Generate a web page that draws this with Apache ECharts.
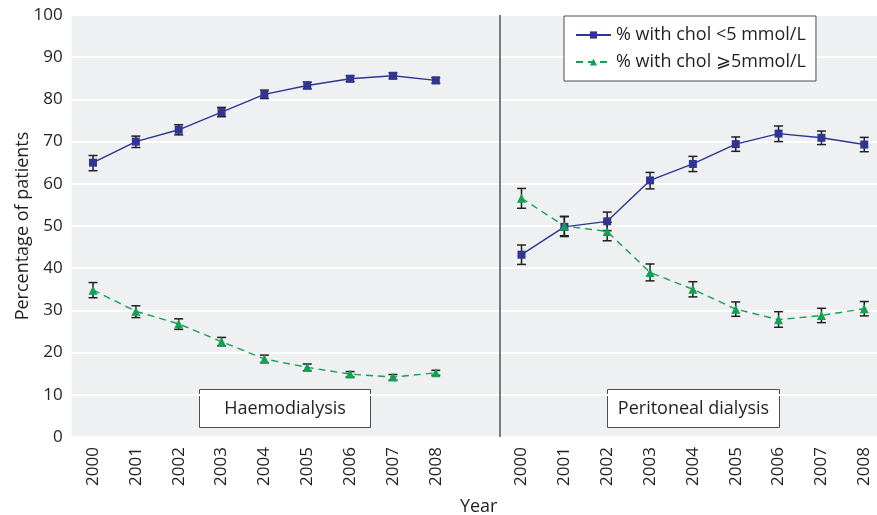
<!DOCTYPE html>
<html>
<head>
<meta charset="utf-8">
<script src="https://cdn.jsdelivr.net/npm/echarts@6/dist/echarts.min.js"></script>
<style>
  html, body { margin: 0; padding: 0; background: #ffffff; }
  #chart { width: 877px; height: 515px; }
</style>
</head>
<body>
<div id="chart"></div>
<script>
// Survey years, shown once for each dialysis modality
const years = ['2000', '2001', '2002', '2003', '2004', '2005', '2006', '2007', '2008'];

// Haemodialysis: % of patients with cholesterol < 5 mmol/L (with 95% CI)
const hdBelow     = [65.0, 70.0, 72.8, 77.0, 81.2, 83.3, 84.9, 85.6, 84.5];
const hdBelowLow  = [63.1, 68.6, 71.6, 75.9, 80.2, 82.5, 84.2, 84.9, 83.8];
const hdBelowHigh = [66.7, 71.3, 74.0, 78.1, 82.2, 84.1, 85.6, 86.3, 85.2];

// Haemodialysis: % of patients with cholesterol >= 5 mmol/L
const hdAbove     = [34.8, 29.8, 26.8, 22.6, 18.5, 16.5, 14.9, 14.2, 15.2];
const hdAboveLow  = [33.0, 28.3, 25.5, 21.6, 17.6, 15.7, 14.2, 13.5, 14.6];
const hdAboveHigh = [36.6, 31.1, 28.0, 23.6, 19.4, 17.3, 15.5, 14.8, 15.8];

// Peritoneal dialysis: % of patients with cholesterol < 5 mmol/L
const pdBelow     = [43.2, 49.8, 51.1, 60.8, 64.7, 69.4, 71.9, 70.9, 69.3];
const pdBelowLow  = [40.9, 47.5, 48.9, 58.8, 62.9, 67.7, 70.0, 69.3, 67.6];
const pdBelowHigh = [45.5, 52.2, 53.3, 62.7, 66.5, 71.1, 73.7, 72.5, 71.0];

// Peritoneal dialysis: % of patients with cholesterol >= 5 mmol/L
const pdAbove     = [56.6, 50.0, 48.7, 39.0, 35.0, 30.3, 27.8, 28.8, 30.4];
const pdAboveLow  = [54.2, 47.7, 46.5, 37.0, 33.2, 28.6, 26.0, 27.1, 28.7];
const pdAboveHigh = [58.9, 52.3, 50.9, 41.0, 36.8, 32.0, 29.7, 30.5, 32.1];

// Y axis ticks
const yMin = 0, yMax = 100, yStep = 10;

const seriesNames = ['% with chol <5 mmol/L', '% with chol \u2A7E5mmol/L'];
const panelNames = ['Haemodialysis', 'Peritoneal dialysis'];

const FONT = '"Open Sans", "DejaVu Sans", sans-serif';
const TEXT = '#231f20';
const BLUE = '#2e3592';
const GREEN = '#12a150';

// One category axis: HD years, an empty spacer slot, then PD years
const categories = years.concat([''], years);
const pdOffset = years.length + 1;

function joinPanels(hd, pd) {
  return hd.concat([null], pd);
}

function errorData(hdLow, hdHigh, pdLow, pdHigh) {
  const out = [];
  hdLow.forEach((lo, i) => out.push([i, lo, hdHigh[i]]));
  pdLow.forEach((lo, i) => out.push([i + pdOffset, lo, pdHigh[i]]));
  return out;
}

function renderErrorBar(params, api) {
  const x = api.value(0);
  const lo = api.coord([x, api.value(1)]);
  const hi = api.coord([x, api.value(2)]);
  const half = 4.5;
  const style = { stroke: '#231f20', lineWidth: 1.5, fill: null };
  return {
    type: 'group',
    children: [
      { type: 'line', shape: { x1: lo[0], y1: lo[1], x2: hi[0], y2: hi[1] }, style: style },
      { type: 'line', shape: { x1: lo[0] - half, y1: lo[1], x2: lo[0] + half, y2: lo[1] }, style: style },
      { type: 'line', shape: { x1: hi[0] - half, y1: hi[1], x2: hi[0] + half, y2: hi[1] }, style: style }
    ]
  };
}

function errorSeries(data) {
  return {
    type: 'custom',
    renderItem: renderErrorBar,
    data: data,
    encode: { x: 0, y: [1, 2] },
    z: 1,
    silent: true,
    legendHoverLink: false
  };
}

function panelLabel(text, left, width) {
  return {
    type: 'group',
    left: left,
    top: 389,
    children: [
      { type: 'rect', shape: { x: 0, y: 0, width: width, height: 38 },
        style: { fill: '#ffffff', stroke: '#4d4d4f', lineWidth: 1 } },
      { type: 'text', x: width / 2, y: 19,
        style: { text: text, align: 'center', verticalAlign: 'middle',
                 font: '18px ' + FONT, fill: TEXT } }
    ]
  };
}

const chart = echarts.init(document.getElementById('chart'), null, { renderer: 'canvas' });

chart.setOption({
  animation: false,
  backgroundColor: '#ffffff',
  textStyle: { fontFamily: FONT },
  grid: {
    left: 71.6, width: 814.1, top: 15, height: 422,
    show: true, backgroundColor: '#eff0f2', borderWidth: 0,
    containLabel: false,
    outerBoundsMode: 'none'
  },
  legend: {
    orient: 'vertical',
    left: 564, top: 16,
    padding: [10, 10, 10, 11],
    itemGap: 9,
    itemWidth: 35, itemHeight: 9,
    backgroundColor: '#ffffff',
    borderColor: '#4d4d4f', borderWidth: 1,
    textStyle: { fontSize: 18, color: TEXT, fontFamily: FONT },
    data: seriesNames
  },
  xAxis: [
    {
      type: 'category',
      data: categories,
      boundaryGap: true,
      name: 'Year',
      nameLocation: 'middle',
      nameGap: 61,
      nameMoveOverlap: false,
      nameTextStyle: { fontSize: 18, color: TEXT, fontFamily: FONT },
      axisLine: { show: false },
      axisTick: { show: false },
      axisLabel: {
        rotate: 90, interval: 0, margin: 10,
        fontSize: 17, color: TEXT, fontFamily: FONT
      },
      splitLine: { show: false }
    },
    {
      // Slot-count axis used to place the divider between the two panels
      type: 'value',
      min: 0, max: categories.length,
      show: false
    }
  ],
  yAxis: {
    type: 'value',
    min: yMin, max: yMax, interval: yStep,
    name: 'Percentage of patients',
    nameLocation: 'middle',
    nameGap: 40,
    nameMoveOverlap: false,
    nameTextStyle: { fontSize: 18, color: TEXT, fontFamily: FONT },
    axisLine: { show: false },
    axisTick: { show: false },
    axisLabel: { margin: 9, fontSize: 17, color: TEXT, fontFamily: FONT },
    splitLine: { show: true, lineStyle: { color: '#ffffff', width: 2 } }
  },
  series: [
    errorSeries(errorData(hdBelowLow, hdBelowHigh, pdBelowLow, pdBelowHigh)),
    errorSeries(errorData(hdAboveLow, hdAboveHigh, pdAboveLow, pdAboveHigh)),
    {
      name: seriesNames[0],
      type: 'line',
      data: joinPanels(hdBelow, pdBelow),
      connectNulls: false,
      symbol: 'rect',
      symbolSize: 8,
      showAllSymbol: true,
      z: 3,
      lineStyle: { color: BLUE, width: 1.4 },
      itemStyle: { color: BLUE }
    },
    {
      name: seriesNames[1],
      type: 'line',
      data: joinPanels(hdAbove, pdAbove),
      connectNulls: false,
      symbol: 'triangle',
      symbolSize: 9,
      showAllSymbol: true,
      z: 3,
      lineStyle: { color: GREEN, width: 1.4, type: [7, 5] },
      itemStyle: { color: GREEN }
    },
    {
      // Divider between the haemodialysis and peritoneal dialysis panels
      type: 'line',
      xAxisIndex: 1,
      data: [],
      silent: true,
      markLine: {
        silent: true,
        symbol: 'none',
        label: { show: false },
        lineStyle: { color: '#555557', width: 1.5, type: 'solid' },
        data: [{ xAxis: pdOffset }]
      }
    }
  ],
  graphic: [
    panelLabel(panelNames[0], 199, 171),
    panelLabel(panelNames[1], 607, 172)
  ]
});
</script>
</body>
</html>
